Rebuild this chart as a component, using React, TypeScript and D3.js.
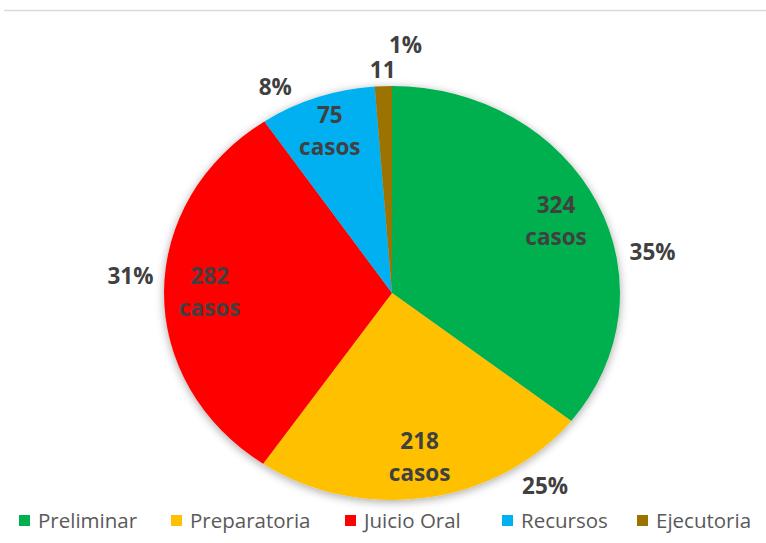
import React from "react";
import * as d3 from "d3";

const categories = ["Preliminar", "Preparatoria", "Juicio Oral", "Recursos", "Ejecutoria"];
const values = [324, 218, 282, 75, 11];
const percentLabels = ["35%", "25%", "31%", "8%", "1%"];
const showCasos = [true, true, true, true, false];
const colors = ["#00B050", "#FFC000", "#FF0000", "#00B0F0", "#9C7200"];

const W = 766;
const H = 543;
const cx = 392;
const cy = 293;
const R = 228;
const yScale = 207 / 228;

// layout config for label placement (angle offset in degrees, radius factor)
const pctAdjust = [
  { da: 16, rf: 1.16 },
  { da: -27, rf: 1.15 },
  { da: 4, rf: 1.15 },
  { da: -8, rf: 1.12 },
  { da: 5, rf: 1.2 },
];
const valRf = [0.8, 0.8, 0.8, 0.83, 1.08];
const legendX = [19, 171, 345, 502, 637];

export default function App() {
  const pie = d3.pie<number>().sort(null).value((d) => d);
  const arcs = pie(values);
  const arc = d3.arc<d3.PieArcDatum<number>>().innerRadius(0).outerRadius(R);
  const font = "'Open Sans', Lato, sans-serif";

  const polar = (ang: number, r: number) => [
    cx + Math.sin(ang) * r,
    cy - Math.cos(ang) * r * yScale,
  ];

  return (
    <svg width={W} height={H} style={{ position: "absolute", left: 0, top: 0 }}>
      <defs>
        <filter id="sh" x="-20%" y="-20%" width="140%" height="140%">
          <feGaussianBlur in="SourceAlpha" stdDeviation="5" />
          <feOffset dx="0" dy="2" result="b" />
          <feComponentTransfer>
            <feFuncA type="linear" slope="0.35" />
          </feComponentTransfer>
          <feMerge>
            <feMergeNode />
            <feMergeNode in="SourceGraphic" />
          </feMerge>
        </filter>
      </defs>
      <rect width={W} height={H} fill="#fff" />
      <line x1={4} x2={766} y1={10.5} y2={10.5} stroke="#d9d9d9" strokeWidth={1.5} />
      <g transform={`translate(${cx},${cy}) scale(1,${yScale})`} filter="url(#sh)">
        {arcs.map((a, i) => (
          <path key={i} d={arc(a) || ""} fill={colors[i]} />
        ))}
      </g>
      {arcs.map((a, i) => {
        const mid = (a.startAngle + a.endAngle) / 2;
        const [vx, vy] = polar(mid, R * valRf[i]);
        const pa = mid + (pctAdjust[i].da * Math.PI) / 180;
        const [px, py] = polar(pa, R * pctAdjust[i].rf);
        return (
          <g key={i} fontFamily={font} fontWeight="bold" fontSize={22.5} fill="#404040" textAnchor="middle">
            {showCasos[i] ? (
              <>
                <text x={vx} y={vy - 16 + 8}>{values[i]}</text>
                <text x={vx} y={vy + 16 + 8}>casos</text>
              </>
            ) : (
              <text x={vx} y={vy + 8}>{values[i]}</text>
            )}
            <text x={px} y={py + 8}>{percentLabels[i]}</text>
          </g>
        );
      })}
      {categories.map((c, i) => (
        <g key={c}>
          <rect x={legendX[i]} y={515} width={11} height={11} fill={colors[i]} />
          <text x={legendX[i] + 19} y={528} fontFamily={font} fontSize={20.5} fill="#595959">
            {c}
          </text>
        </g>
      ))}
    </svg>
  );
}
